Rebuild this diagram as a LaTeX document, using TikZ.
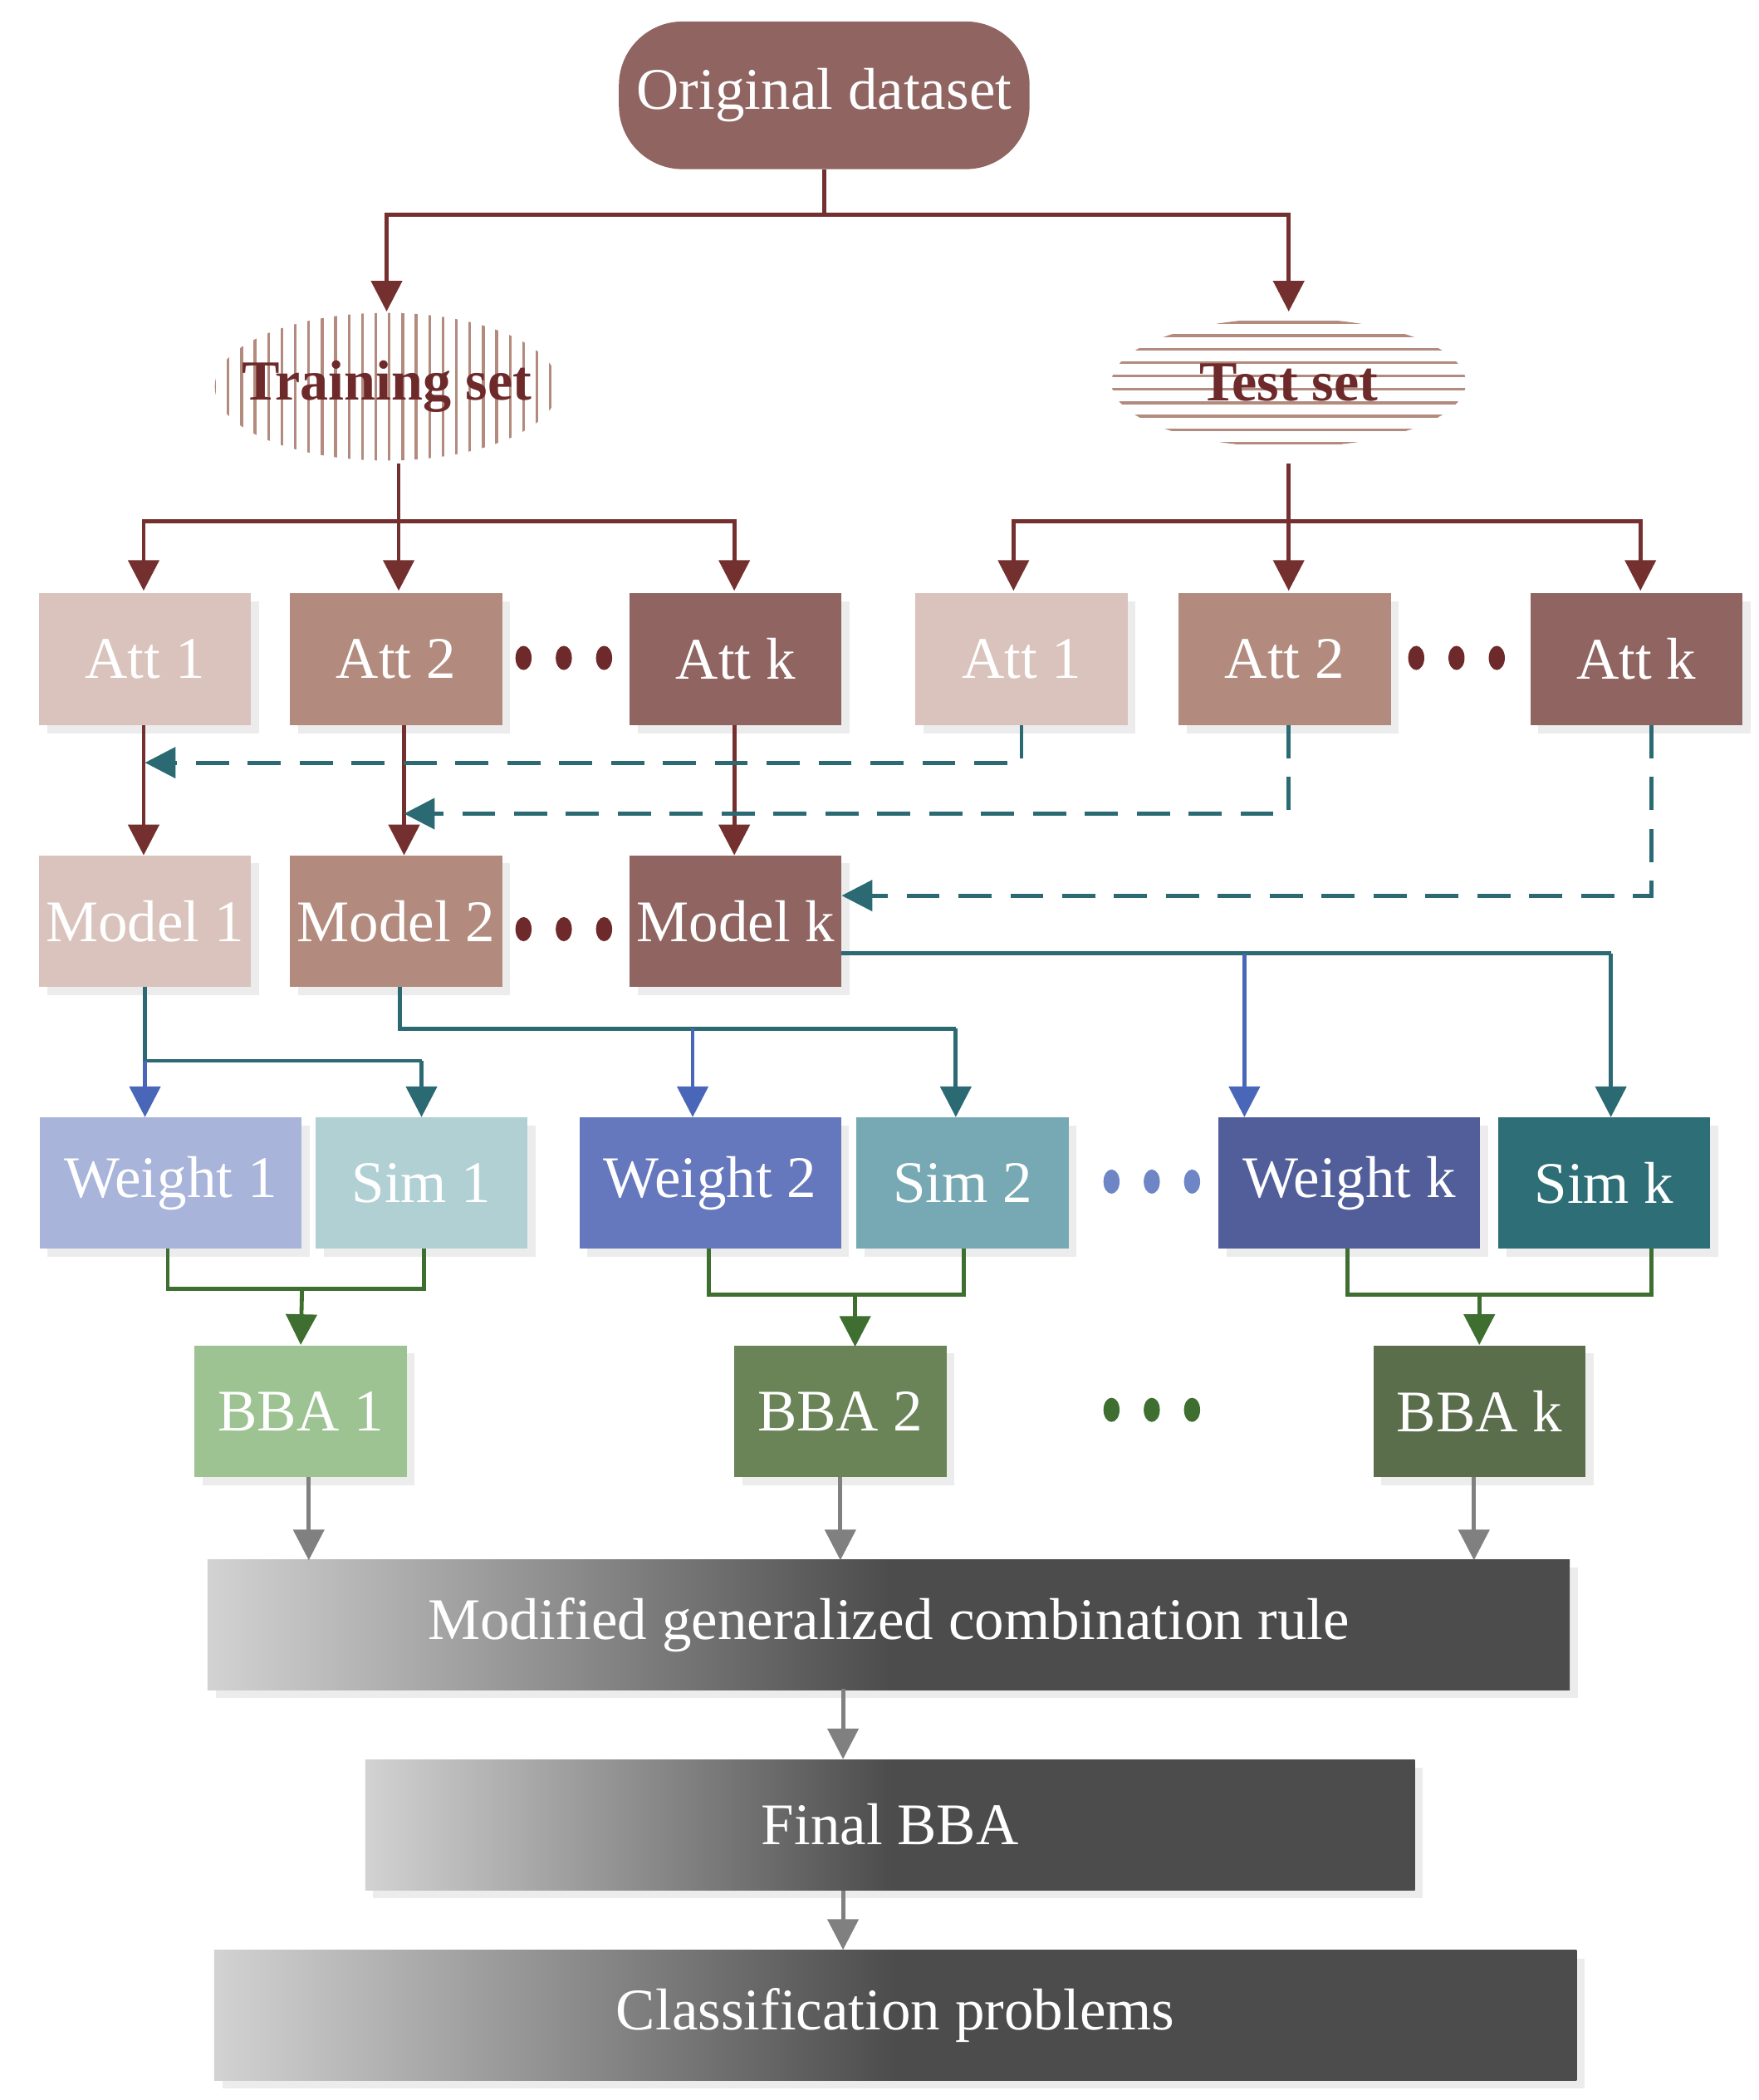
\documentclass[tikz,border=0pt]{standalone}
\usepackage{fontspec}
\setmainfont{Liberation Serif}
\usetikzlibrary{arrows.meta,shapes.geometric}
\definecolor{dred}{HTML}{6E2A2A}
\definecolor{ar}{HTML}{74302E}
\definecolor{teal1}{HTML}{2B6A73}
\definecolor{blu}{HTML}{4A66B8}
\definecolor{grn}{HTML}{3E6E30}
\definecolor{gry}{HTML}{808080}
\definecolor{cA}{HTML}{D9C3BC}\definecolor{cB}{HTML}{B38B7E}\definecolor{cC}{HTML}{8F6461}
\definecolor{w1}{HTML}{A9B4DA}\definecolor{s1}{HTML}{B0D0D4}
\definecolor{w2}{HTML}{6678BD}\definecolor{s2}{HTML}{76A9B3}
\definecolor{w3}{HTML}{515E99}\definecolor{s3}{HTML}{2E6E76}
\definecolor{b1}{HTML}{9DC392}\definecolor{b2}{HTML}{6A8458}\definecolor{b3}{HTML}{5B6E4C}
\tikzset{
 fnt/.style={font=\fontsize{25}{29}\selectfont},
 box/.style={draw=none,text=white,minimum width=3.16cm,minimum height=1.96cm,inner sep=0pt,fnt},
 wbox/.style={box,minimum width=3.9cm},
 sh/.style={preaction={fill=gray!15,transform canvas={xshift=1.2mm,yshift=-1.2mm}}},
 big/.style={draw=none,text=white,minimum height=1.94cm,inner sep=0pt,fnt,
   left color=gray!35,right color=black!70,middle color=gray!60!black,shading angle=90,
   preaction={fill=gray!15,transform canvas={xshift=1.2mm,yshift=-1.2mm}}},
 a/.style={line width=1.7pt,-{Triangle[width=13pt,length=13pt]}},
 l/.style={line width=1.7pt},
}
\newcommand{\tridots}[3]{\foreach \k in {-30,0,30}\fill[#1] ({#2+\k},#3) ellipse (6 and 9);}
\begin{document}
\begin{tikzpicture}[x=0.02cm,y=-0.02cm]
\useasboundingbox (0,0) rectangle (1310,1564);
\node[fill=cC,rounded corners=0.95cm,minimum width=6.12cm,minimum height=2.2cm,text=white,fnt] (orig) at (614,71) {Original dataset};
\begin{scope}
\clip (288,288) ellipse (128 and 55);
\foreach \i in {160,170,...,420} \draw[line width=1.2pt,cB] (\i,230)--(\i,350);
\end{scope}
\node[font=\bfseries\fontsize{24}{28}\selectfont,text=dred,minimum width=5.1cm,minimum height=2.2cm] (train) at (288,288) {Training set};
\begin{scope}
\clip (960,285) ellipse (132 and 48);
\foreach \j in {240,250,...,335} \draw[line width=1.2pt,cB] (820,\j)--(1100,\j);
\end{scope}
\node[font=\bfseries\fontsize{24}{28}\selectfont,text=dred,minimum width=5.2cm,minimum height=1.9cm] (test) at (960,285) {Test set};
\coordinate (sp) at (614,160);
\draw[l,ar] (orig.south)--(sp);
\draw[a,ar] (sp)-|(288,232);
\draw[a,ar] (sp)-|(960,232);
\node[box,sh,fill=cA] (la1) at (108,491) {Att 1};
\node[box,sh,fill=cB] (la2) at (295,491) {Att 2};
\node[box,sh,fill=cC] (lak) at (548,491) {Att k};
\node[box,sh,fill=cA] (ra1) at (761,491) {Att 1};
\node[box,sh,fill=cB] (ra2) at (957,491) {Att 2};
\node[box,sh,fill=cC] (rak) at (1219,491) {Att k};
\tridots{dred}{420}{490}
\tridots{dred}{1085}{490}
\coordinate (tj) at (297,388);
\draw[l,ar] (297,345)--(tj);
\draw[a,ar] (tj)--(297,440);
\draw[a,ar] (tj)-|(107,440);
\draw[a,ar] (tj)-|(547,440);
\coordinate (rj) at (960,388);
\draw[a,ar] (960,345)--(960,440);
\draw[a,ar] (rj)-|(755,440);
\draw[a,ar] (rj)-|(1222,440);
\node[box,sh,fill=cA] (m1) at (108,686) {Model 1};
\node[box,sh,fill=cB] (m2) at (295,686) {Model 2};
\node[box,sh,fill=cC] (mk) at (548,686) {Model k};
\tridots{dred}{420}{692}
\draw[a,ar] (107,540)--(107,637);
\draw[a,ar] (301,540)--(301,637);
\draw[a,ar] (547,540)--(547,637);
\draw[a,teal1,dash pattern=on 14pt off 8pt] (761,540)--(761,568)--(108,568);
\draw[a,teal1,dash pattern=on 14pt off 8pt] (960,540)--(960,606)--(301,606);
\draw[a,teal1,dash pattern=on 14pt off 8pt] (1230,540)--(1230,667)--(627,667);
\node[wbox,sh,fill=w1] (w1n) at (127,881) {Weight 1};
\node[box,sh,fill=s1] (s1n) at (314,881) {Sim 1};
\node[wbox,sh,fill=w2] (w2n) at (529,881) {Weight 2};
\node[box,sh,fill=s2] (s2n) at (717,881) {Sim 2};
\node[wbox,sh,fill=w3] (w3n) at (1005,881) {Weight k};
\node[box,sh,fill=s3] (s3n) at (1195,881) {Sim k};
\tridots{blu!80}{858}{880}
\draw[l,teal1] (108,735)--(108,790)--(314,790);
\draw[a,teal1] (314,790)--(314,832);
\draw[a,blu] (108,790)--(108,832);
\draw[l,teal1] (298,735)--(298,766)--(712,766);
\draw[a,blu] (516,766)--(516,832);
\draw[a,teal1] (712,766)--(712,832);
\draw[l,teal1] (627,710)--(1200,710);
\draw[a,blu] (927,710)--(927,832);
\draw[a,teal1] (1200,710)--(1200,832);
\node[box,sh,fill=b1] (bb1) at (224,1051) {BBA 1};
\node[box,sh,fill=b2] (bb2) at (626,1051) {BBA 2};
\node[box,sh,fill=b3] (bbk) at (1102,1051) {BBA k};
\tridots{grn}{858}{1050}
\draw[l,grn] (125,930)--(125,960)--(316,960)--(316,930);
\draw[a,grn] (225,960)--(bb1.north);
\draw[l,grn] (528,930)--(528,964)--(718,964)--(718,930);
\draw[a,grn] (637,964)--(637,1003);
\draw[l,grn] (1004,930)--(1004,964)--(1230,964)--(1230,930);
\draw[a,grn] (1102,964)--(bbk.north);
\node[big,minimum width=20.3cm] (mod) at (662,1210) {Modified generalized combination rule};
\node[big,minimum width=15.64cm] (fin) at (663,1359) {Final BBA};
\node[big,minimum width=20.3cm] (cls) at (667,1501) {Classification problems};
\draw[a,gry] (230,1100)--(230,1162);
\draw[a,gry] (626,1100)--(626,1162);
\draw[a,gry] (1098,1100)--(1098,1162);
\draw[a,gry] (628,1258)--(fin.north-|628,0);
\draw[a,gry] (628,1408)--(cls.north-|628,0);
\end{tikzpicture}
\end{document}
